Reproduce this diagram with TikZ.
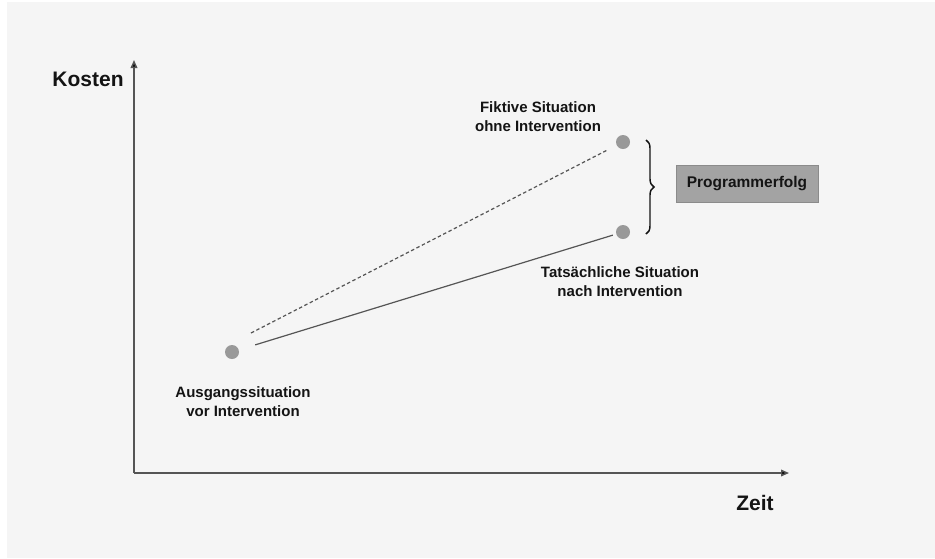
\documentclass[tikz,border=0pt]{standalone}
\usepackage{fontspec}
\setmainfont{Liberation Sans}
\usetikzlibrary{arrows.meta,decorations.pathreplacing}
\definecolor{bggrey}{HTML}{F5F5F5}
\definecolor{dotgrey}{HTML}{999999}
\definecolor{linegrey}{HTML}{555555}
\definecolor{boxgrey}{HTML}{A3A3A3}
\definecolor{txtgrey}{HTML}{141414}
\tikzset{
	dot/.style={circle, fill=dotgrey, inner sep=0pt, minimum size=10.5pt},
	lbl/.style={font=\bfseries\fontsize{11.25}{14.25}\selectfont, align=center, text=txtgrey},
	axlbl/.style={font=\bfseries\fontsize{15.75}{18}\selectfont, text=txtgrey},
	axis/.style={draw=linegrey, line width=1.1pt, -{Triangle[length=6pt,width=5pt,fill=black]}}
}
\begin{document}
\begin{tikzpicture}[x=0.75pt,y=-0.75pt]
		\fill[white] (0,0) rectangle (935,558);
		\fill[bggrey] (7,2) rectangle (935,558);
		\useasboundingbox (0,0) rectangle (935,558);
		% axes
		\coordinate (O) at (134,473);
		\coordinate (ytip) at (134,60);
		\coordinate (xtip) at (789,473);
		\draw[axis] (O)--(ytip);
		\draw[axis] (O)--(xtip);
		\node[axlbl] (kosten) at (88,79) {Kosten};
		\node[axlbl] (zeit) at (755,503) {Zeit};
		% situations
		\node[dot] (start) at (232,352) {};
		\node[dot] (fict) at (623,142) {};
		\node[dot] (real) at (623,232) {};
		\coordinate (dashstart) at (251,333);
		\draw[linegrey, line width=0.9pt, dash pattern=on 2.6pt off 1.9pt, shorten >=7.5pt] (dashstart)--(fict);
		\draw[linegrey, line width=0.9pt, shorten <=12.75pt, shorten >=2.5pt] (start)--(real);
		\node[lbl] (startlbl) at (243,402) {Ausgangssituation\\vor Intervention};
		\node[lbl] (fictlbl) at (538,117) {Fiktive Situation\\ohne Intervention};
		\node[lbl] (reallbl) at (620,282) {Tatsächliche Situation\\nach Intervention};
		% difference
		\draw[txtgrey, line width=1.1pt, decorate, decoration={brace, amplitude=6pt}] (646,140)--(646,234);
		\node[lbl, font=\bfseries\fontsize{11.6}{14.25}\selectfont, fill=boxgrey, draw=boxgrey!85!black, line width=0.5pt, minimum width=106.5pt, minimum height=27.75pt] (erfolg) at (747,183.5) {Programmerfolg};
	\end{tikzpicture}
\end{document}
